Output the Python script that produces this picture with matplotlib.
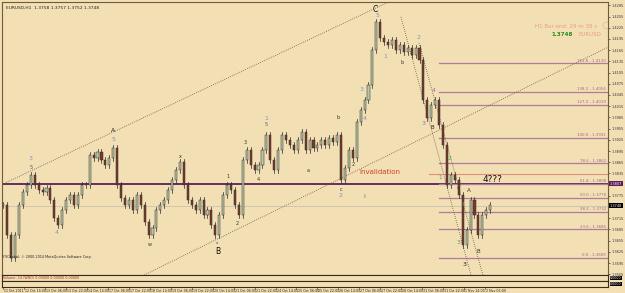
import numpy as np
import matplotlib.pyplot as plt
from matplotlib.patches import Rectangle

# EURUSD H1, one close every 3 bars
step = 3
closes = [1.3751, 1.3670, 1.3609, 1.3670, 1.3751, 1.3785, 1.3804, 1.3831, 1.3804, 1.3791,
          1.3785, 1.3796, 1.3764, 1.3716, 1.3697, 1.3737, 1.3764, 1.3777, 1.3751, 1.3777,
          1.3804, 1.3804, 1.3885, 1.3876, 1.3893, 1.3871, 1.3858, 1.3876, 1.3903, 1.3804,
          1.3769, 1.3751, 1.3764, 1.3737, 1.3777, 1.3751, 1.3705, 1.3670, 1.3689, 1.3737,
          1.3751, 1.3764, 1.3791, 1.3818, 1.3844, 1.3866, 1.3804, 1.3764, 1.3751, 1.3737,
          1.3764, 1.3724, 1.3737, 1.3697, 1.3670, 1.3724, 1.3777, 1.3804, 1.3791, 1.3751,
          1.3724, 1.3871, 1.3898, 1.3858, 1.3844, 1.3858, 1.3898, 1.3938, 1.3871, 1.3844,
          1.3898, 1.3938, 1.3925, 1.3911, 1.3898, 1.3925, 1.3946, 1.3898, 1.3925, 1.3903,
          1.3911, 1.3925, 1.3911, 1.3930, 1.3919, 1.3938, 1.3818, 1.3850, 1.3898, 1.3876,
          1.3973, 1.4005, 1.4032, 1.4072, 1.4166, 1.4240, 1.4198, 1.4187, 1.4179, 1.4192,
          1.4166, 1.4179, 1.4160, 1.4171, 1.4152, 1.4171, 1.4139, 1.4032, 1.3984, 1.4018,
          1.4032, 1.3965, 1.3911, 1.3804, 1.3831, 1.3818, 1.3777, 1.3644, 1.3684, 1.3764,
          1.3724, 1.3670, 1.3724, 1.3737, 1.3751]

date_labels = ["11 Oct 2011", "12 Oct 14:00", "13 Oct 06:00", "13 Oct 22:00", "14 Oct 14:00",
               "17 Oct 06:00", "17 Oct 22:00", "18 Oct 14:00", "19 Oct 06:00", "19 Oct 22:00",
               "20 Oct 14:00", "21 Oct 06:00", "21 Oct 22:00", "24 Oct 14:00", "25 Oct 06:00",
               "25 Oct 22:00", "26 Oct 14:00", "27 Oct 06:00", "27 Oct 22:00", "28 Oct 14:00",
               "31 Oct 06:00", "31 Oct 22:00", "1 Nov 14:00", "2 Nov 06:00"]
label_every = 16

price_ticks = [1.3565 + 0.003 * i for i in range(25)]

fib_levels = [0.0, 23.6, 38.2, 50.0, 61.8, 78.6, 100.0, 127.2, 138.2, 161.8]
fib_low = 1.3609
fib_high = 1.3931
fib_start = 333

support = 1.3807
invalid_level = 1.3834
bid = 1.3748

# wave counts: text, hour, price, colour, size
waves = [("3", 21, 1.3874, "#7d95c4", 4.5), ("5", 21, 1.3850, "#555555", 3.5),
         ("4", 41, 1.3676, "#7d95c4", 4.5), ("A", 84, 1.3949, "#222222", 4.5),
         ("5", 84, 1.3925, "#7d95c4", 4.5), ("w", 112, 1.3644, "#333333", 3.5),
         ("x", 135, 1.3879, "#333333", 3.5), ("v", 163, 1.3649, "#333333", 3),
         ("B", 164, 1.3626, "#111111", 5.5), ("1", 172, 1.3826, "#333333", 3.5),
         ("2", 179, 1.3700, "#333333", 3.5), ("3", 185, 1.3917, "#333333", 3.5),
         ("4", 195, 1.3818, "#333333", 3.5), ("1", 201, 1.3983, "#7d95c4", 4.5),
         ("5", 201, 1.3965, "#555555", 3.5), ("a", 233, 1.3844, "#333333", 3.5),
         ("b", 256, 1.3986, "#333333", 3.5), ("c", 258, 1.3793, "#333333", 3.5),
         ("2", 258, 1.3775, "#7d95c4", 4.5), ("2", 267, 1.3858, "#333333", 3.5),
         ("ii", 276, 1.3772, "#888888", 3.5), ("3", 274, 1.4061, "#7d95c4", 4.5),
         ("4", 276, 1.3981, "#7d95c4", 4.5), ("C", 284, 1.4275, "#111111", 5.5),
         ("5", 286, 1.4259, "#7d95c4", 4.5), ("1", 292, 1.4149, "#7d95c4", 4.5),
         ("b", 305, 1.4133, "#333333", 3.5), ("2", 317, 1.4198, "#7d95c4", 4.5),
         ("4", 329, 1.4058, "#a070a8", 4.5), ("3", 321, 1.3970, "#a070a8", 4.5),
         ("B", 328, 1.3957, "#222222", 4), ("1", 334, 1.3823, "#5aa05a", 4),
         ("2", 341, 1.3874, "#5aa05a", 4.5), ("iv", 348, 1.3796, "#333333", 3),
         ("A", 356, 1.3788, "#333333", 4), ("4", 351, 1.3751, "#5aa05a", 4),
         ("3", 348, 1.3649, "#5aa05a", 4.5), ("3", 352, 1.3590, "#222222", 4.5),
         ("B", 363, 1.3625, "#333333", 4)]

bg = "#f3dfb4"
fig = plt.figure(figsize=(6.25, 2.93), dpi=100, facecolor=bg)
ax = fig.add_axes([2 / 625, 1 - 275 / 293, 606 / 625, 273 / 293], facecolor=bg)

hours = np.arange(len(closes)) * step
opens = [closes[0]] + closes[:-1]
wick = 0.0008
for h, o, c in zip(hours, opens, closes):
    lo, hi = min(o, c), max(o, c)
    ax.plot([h, h], [lo - wick, hi + wick], color="#2b2b2b", lw=0.5, zorder=3)
    col = "#b9c7a2" if c >= o else "#7a3b2c"
    ax.add_patch(Rectangle((h - 0.8, lo), 1.6, max(hi - lo, 0.00012),
                           facecolor=col, edgecolor="#2b2b2b", lw=0.35, zorder=4))

x_right = 462
ax.set_xlim(-1, x_right)
ax.set_ylim(1.3563, 1.4294)

# bid line and support
ax.axhline(bid, color="#c8c0b0", lw=0.6, zorder=1)
ax.axhline(support, color="#5a2058", lw=1.3, zorder=2)
ax.plot([325, x_right], [invalid_level] * 2, color="#e0907a", lw=0.8, zorder=2)

# fibonacci levels
for lev in fib_levels:
    p = fib_low + (fib_high - fib_low) * lev / 100
    ax.plot([fib_start, x_right], [p, p], color="#b07c9c", lw=0.9, zorder=2)
    ax.text(x_right - 1.5, p + 0.0002, f"{lev:.1f} - {p:.4f}", fontsize=2.8,
            color="#9a6a8a", ha="right", va="bottom")

# dotted trend lines
ax.axline((0, 1.3807), (284.7, 1.4278), color="#6b5a45", lw=0.6, ls=(0, (1, 1.5)))
ax.axline((107.6, 1.3563), (462.6, 1.4174), color="#6b5a45", lw=0.6, ls=(0, (1, 1.5)))
ax.plot([317.6, 366.4], [1.4184, 1.3563], color="#6b5a45", lw=0.6, ls=(0, (1, 1.5)))
ax.plot([303.8, 357.3], [1.4254, 1.3563], color="#6b5a45", lw=0.6, ls=(0, (1, 1.5)))

for t, h, p, c, s in waves:
    ax.text(h, p, t, color=c, fontsize=s, ha="center", va="center", zorder=6)

ax.text(288, 1.3839, "invalidation", color="#d04030", fontsize=5, ha="center", va="center")
ax.text(374, 1.3818, "4???", color="#111111", fontsize=6.5, ha="center", va="center")

ax.text(0.006, 0.985, "EURUSD,H1  1.3758 1.3757 1.3752 1.3748", transform=ax.transAxes,
        fontsize=3.2, color="#222222", va="top")
ax.text(0.982, 0.912, "H1 Bar end: 29 m 38 s", transform=ax.transAxes, fontsize=4,
        color="#e8a080", ha="right", va="center")
ax.text(0.925, 0.88, "1.3748", transform=ax.transAxes, fontsize=4, color="#2a8a20",
        ha="center", va="center", weight="bold")
ax.text(0.97, 0.88, "EURUSD", transform=ax.transAxes, fontsize=4, color="#e8a080",
        ha="center", va="center")
ax.plot([0.997], [0.915], "o", transform=ax.transAxes, ms=5, mfc="none", mec="#e8b0a0", mew=0.5)

ax.yaxis.tick_right()
ax.set_yticks(price_ticks)
tick_text = []
for v in price_ticks:
    near_tag = abs(v - bid) < 0.001 or abs(v - support) < 0.001
    tick_text.append("" if near_tag else f"{v:.4f}")
ax.set_yticklabels(tick_text)
ax.tick_params(axis="y", labelsize=2.5, length=1.5, width=0.5, colors="#333333", pad=1)
ax.set_xticks([])
for sp in ax.spines.values():
    sp.set_color("#6e5c3c")
    sp.set_linewidth(0.8)

# price tags on the axis
for val, fc in ((bid, "black"), (support, "#5a2058")):
    ax.text(1.003, (val - 1.3563) / (1.4294 - 1.3563), f"{val:.4f}", transform=ax.transAxes,
            fontsize=2.5, color="white", va="center", ha="left",
            bbox=dict(boxstyle="square,pad=0.12", fc=fc, ec="none"))

# the two small indicator windows
sub1 = fig.add_axes([2 / 625, 1 - 281 / 293, 606 / 625, 6 / 293], facecolor=bg)
sub1.text(0.003, 0.5, "Volume: 14 (WRD) 0.00000 0.00000 0.00000", fontsize=2.4,
          color="#a03020", va="center")
sub2 = fig.add_axes([2 / 625, 1 - 287 / 293, 606 / 625, 6 / 293], facecolor=bg)
sub2.text(0.003, 0.5, "FXCapital, \u00a9 2000-2014 MetaQuotes Software Corp.", fontsize=2.4,
          color="#222222", va="center")
for s in (sub1, sub2):
    s.set_xlim(-1, x_right)
    s.set_xticks([])
    s.set_yticks([])
    for sp in s.spines.values():
        sp.set_color("#3a2a1a")
        sp.set_linewidth(0.8)
    s.text(1.003, 0.5, "0.0000", transform=s.transAxes, fontsize=2.3, color="white",
           va="center", bbox=dict(boxstyle="square,pad=0.08", fc="black", ec="none"))

# date labels along the bottom
for i, lab in enumerate(date_labels):
    x = i * label_every
    sub2.plot([x, x], [0, -0.25], transform=sub2.get_xaxis_transform(), color="#333333",
              lw=0.4, clip_on=False)
    sub2.text(x + 0.8, -0.35, lab, transform=sub2.get_xaxis_transform(), fontsize=2.35,
              color="#222222", va="top", ha="left")

fig.savefig("out.png", dpi=100, facecolor=bg)
